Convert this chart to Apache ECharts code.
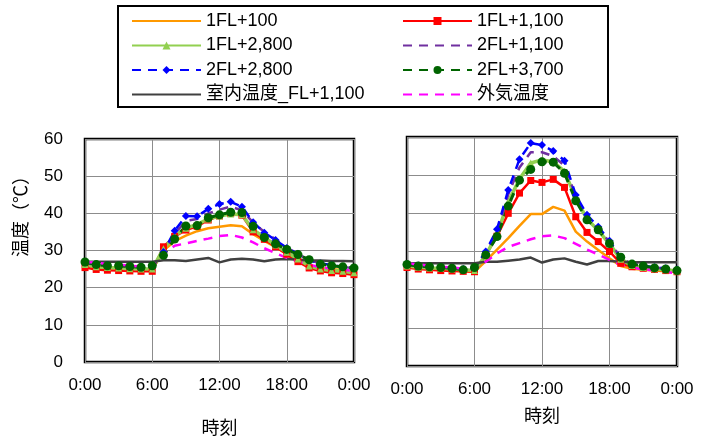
<!DOCTYPE html>
<html><head><meta charset="utf-8">
<script src="https://cdn.jsdelivr.net/npm/echarts@6/dist/echarts.min.js"></script>
<style>html,body{margin:0;padding:0;background:#fff}#c{width:701px;height:443px}</style>
</head><body><div id="c"></div>
<script>
// ---- data ----
const hours = [0,1,2,3,4,5,6,7,8,9,10,11,12,13,14,15,16,17,18,19,20,21,22,23,24];
const xTicks = ['0:00','6:00','12:00','18:00','0:00'];
const seriesNames = ['1FL+100','1FL+1,100','1FL+2,800','2FL+1,100','2FL+2,800','2FL+3,700','室内温度_FL+1,100','外気温度'];

// Left panel
const L_1FL100  = [26.0,25.5,25.3,25.2,25.0,24.9,24.8,30.0,32.5,34.0,35.2,36.0,36.4,36.8,36.5,34.4,32.6,30.9,29.1,27.4,26.0,25.3,25.0,24.7,24.4];
const L_1FL1100 = [25.4,24.9,24.7,24.6,24.5,24.4,24.4,31.0,33.8,35.5,36.5,38.2,39.3,40.0,39.5,35.0,33.0,31.0,29.0,27.0,25.3,24.5,24.0,23.8,23.5];
const L_1FL2800 = [26.2,25.6,25.4,25.3,25.1,25.0,25.0,30.5,34.0,36.0,37.0,38.5,39.3,39.8,39.6,35.6,33.5,31.5,29.5,27.7,25.8,25.0,24.6,24.4,24.0];
const L_2FL1100 = [26.6,26.2,26.0,25.9,25.7,25.5,25.8,29.0,34.5,38.0,38.5,40.0,41.0,41.8,40.8,37.5,35.0,33.0,30.8,29.0,27.4,26.5,26.0,25.6,25.2];
const L_2FL2800 = [26.8,26.3,26.1,26.0,25.8,25.6,25.9,29.6,35.3,39.3,39.2,41.2,42.5,43.1,41.8,37.6,34.8,32.8,30.7,29.1,27.4,26.5,26.1,25.6,25.2];
const L_2FL3700 = [26.9,26.2,25.9,25.9,25.7,25.5,25.9,28.7,33.1,36.6,36.7,38.8,39.6,40.3,40.2,36.5,33.5,31.8,30.3,28.9,27.5,26.3,25.9,25.6,25.3];
const L_indoor  = [27.0,27.0,27.0,27.0,27.0,27.0,27.0,27.4,27.4,27.2,27.6,28.0,26.8,27.6,27.8,27.6,27.1,27.6,27.7,27.5,27.3,27.3,27.2,27.2,27.1];
const L_outdoor = [26.9,26.7,26.4,26.2,25.9,25.7,25.6,29.1,31.3,31.9,32.6,33.2,33.9,34.2,33.5,32.2,30.6,29.3,28.0,27.0,26.2,25.5,25.1,24.8,24.5];

// Right panel
const R_1FL100  = [26.0,25.6,25.4,25.2,25.0,24.8,24.7,27.5,30.5,33.5,36.7,39.8,39.8,41.7,40.7,35.2,32.6,30.4,28.2,26.2,25.5,25.2,25.0,24.8,24.6];
const R_1FL1100 = [25.8,25.4,25.2,25.0,24.9,24.8,24.7,29.1,34.0,40.0,45.3,48.6,48.1,48.9,46.8,39.1,35.0,32.6,30.0,26.9,26.0,25.6,25.3,25.0,24.7];
const R_1FL2800 = [26.2,25.9,25.7,25.6,25.4,25.2,25.0,29.0,34.5,43.0,49.0,53.2,54.0,53.5,51.0,44.0,38.5,35.5,32.0,28.0,26.3,25.8,25.5,25.2,24.9];
const R_2FL1100 = [26.6,26.2,26.0,25.8,25.6,25.3,25.6,29.5,35.0,45.0,52.0,56.0,56.0,55.0,52.5,44.5,39.0,36.0,32.5,28.5,26.6,26.1,25.8,25.5,25.2];
const R_2FL2800 = [26.7,26.3,26.1,25.9,25.7,25.4,25.7,30.0,35.8,46.1,54.2,58.4,57.9,56.3,53.8,44.8,39.6,36.5,32.8,28.5,26.8,26.2,25.9,25.6,25.3];
const R_2FL3700 = [26.6,26.2,26.0,25.8,25.6,25.2,25.8,29.1,33.9,41.9,48.7,51.5,53.5,53.4,50.5,43.3,38.3,35.7,32.1,28.5,26.7,26.2,25.7,25.4,25.0];
const R_indoor  = [26.9,26.9,26.9,26.9,26.9,26.9,26.9,27.3,27.3,27.6,27.9,28.4,27.1,27.9,28.2,27.3,26.6,27.5,27.5,27.3,27.2,27.2,27.2,27.2,27.2];
const R_outdoor = [26.9,26.6,26.3,26.0,25.8,25.5,25.3,27.3,29.5,31.2,32.2,33.2,34.0,34.2,33.5,32.0,30.5,29.2,27.8,26.5,25.8,25.3,25.0,24.6,24.3];

const leftData  = [L_1FL100,L_1FL1100,L_1FL2800,L_2FL1100,L_2FL2800,L_2FL3700,L_indoor,L_outdoor];
const rightData = [R_1FL100,R_1FL1100,R_1FL2800,R_2FL1100,R_2FL2800,R_2FL3700,R_indoor,R_outdoor];

// ---- styles ----
const FONT = "'Liberation Sans', 'Noto Sans CJK JP', sans-serif";
const styles = [
  {color:'#FF9900', type:'solid', width:2.5, symbol:'none'},
  {color:'#FF0000', type:'solid', width:2.5, symbol:'rect', size:7},
  {color:'#92D050', type:'solid', width:3.5, symbol:'triangle', size:7},
  {color:'#7030A0', type:[9,7], width:2.5, symbol:'none'},
  {color:'#0000FF', type:[9,7], width:2.5, symbol:'diamond', size:8},
  {color:'#006400', type:[9,7], width:3, symbol:'circle', size:9},
  {color:'#404040', type:'solid', width:2.5, symbol:'none'},
  {color:'#FF00FF', type:[9,7], width:2.5, symbol:'none'}
];

function mk(idx, arr, panel){
  const s = styles[idx];
  return {
    name: seriesNames[idx], type:'line', xAxisIndex:panel, yAxisIndex:panel,
    data: hours.map((h,i)=>[h, arr[i]]),
    symbol: s.symbol, symbolSize: s.size || 0, showSymbol: s.symbol !== 'none',
    lineStyle:{color:s.color, width:s.width, type:s.type},
    itemStyle:{color:s.color, borderWidth:0},
    animation:false, silent:true
  };
}
const series = [];
leftData.forEach((a,i)=>series.push(mk(i,a,0)));
rightData.forEach((a,i)=>series.push(mk(i,a,1)));

function legItem(i){
  const it = {name: seriesNames[i]};
  if (styles[i].symbol === 'none') it.itemStyle = {opacity:0};
  return it;
}

function xAx(gi, gap){
  return {
    type:'value', gridIndex:gi, min:0, max:24, interval:6,
    name:'時刻', nameLocation:'middle', nameGap:gap,
    nameTextStyle:{fontSize:18, color:'#000', fontFamily:FONT},
    axisLine:{show:false}, axisTick:{show:false},
    axisLabel:{fontSize:17, color:'#000', fontFamily:FONT, margin:15,
      formatter:(v)=>xTicks[Math.round(v/6)]},
    splitLine:{show:true, lineStyle:{color:'#8c8c8c', width:1}}
  };
}
function yAx(gi, showLabel){
  return {
    type:'value', gridIndex:gi, min:0, max:60, interval:10,
    axisLine:{show:false}, axisTick:{show:false},
    axisLabel:{show:showLabel, fontSize:17, color:'#000', fontFamily:FONT, margin:22},
    splitLine:{show:true, lineStyle:{color:'#8c8c8c', width:1}}
  };
}

const legText = {fontSize:18, color:'#000', fontFamily:FONT, lineHeight:20};
const option = {
  backgroundColor:'#fff',
  animation:false,
  grid:[
    {left:85, top:139, width:269, height:229, show:true, borderColor:'#000', borderWidth:2.5, backgroundColor:'transparent'},
    {left:407, top:137, width:270, height:229, show:true, borderColor:'#000', borderWidth:2.5, backgroundColor:'transparent'}
  ],
  xAxis:[xAx(0,58), xAx(1,42)],
  yAxis:[yAx(0,true), yAx(1,false)],
  legend:[
    {orient:'vertical', left:131, top:11, itemWidth:69, itemHeight:10, itemGap:4.5, padding:0,
     data:[legItem(0),legItem(2),legItem(4),legItem(6)], textStyle:legText, selectedMode:false},
    {orient:'vertical', left:402, top:11, itemWidth:69, itemHeight:10, itemGap:4.5, padding:0,
     data:[legItem(1),legItem(3),legItem(5),legItem(7)], textStyle:legText, selectedMode:false}
  ],
  graphic:[
    {type:'rect', shape:{x:118, y:6, width:490, height:101}, style:{fill:'none', stroke:'#000', lineWidth:2}, silent:true},
    {type:'text', x:22, y:212, rotation:Math.PI/2,
     style:{text:'温度（℃）', fontSize:18, fontFamily:FONT, fill:'#000', align:'center', verticalAlign:'middle'}}
  ],
  series: series
};
const chart = echarts.init(document.getElementById('c'), null, {renderer:'canvas'});
chart.setOption(option);
</script></body></html>
